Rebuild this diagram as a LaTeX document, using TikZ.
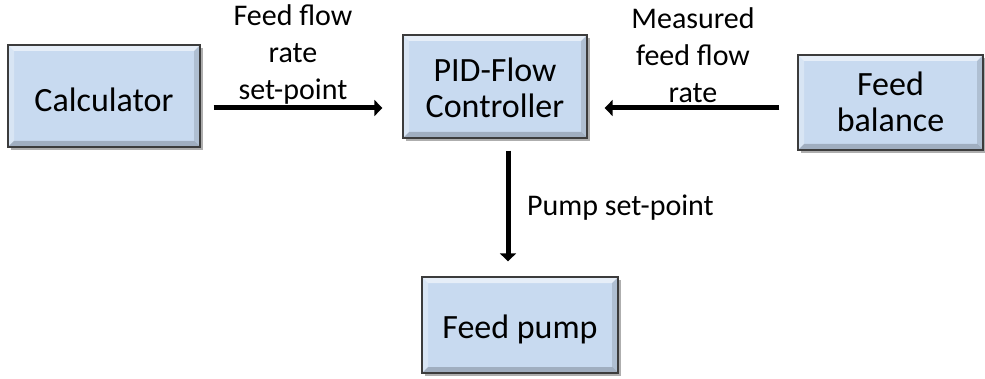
\documentclass[tikz,border=0pt]{standalone}
\usepackage{fontspec}
\setmainfont{Carlito}
\usetikzlibrary{shadows,arrows.meta,calc}
\definecolor{boxfill}{RGB}{200,218,240}
\definecolor{boxedge}{RGB}{60,60,60}
\newcommand{\lowered}[2]{\raisebox{-#1}[\height][\depth]{#2}}
\begin{document}
\begin{tikzpicture}[x=1pt,y=1pt,
  blockbox/.style={draw=boxedge,line width=1.3pt,fill=boxfill,align=center,
    inner sep=0pt,font=\fontsize{34}{36}\selectfont,
    drop shadow={shadow xshift=2.5pt,shadow yshift=-3pt,opacity=0.45,fill=black!70},
    path picture={
      \fill[white,opacity=0.55] (path picture bounding box.north west) -- (path picture bounding box.north east)
        -- ([shift={(-6pt,-6pt)}]path picture bounding box.north east) -- ([shift={(6pt,-6pt)}]path picture bounding box.north west) -- cycle;
      \fill[white,opacity=0.3] (path picture bounding box.north west) -- (path picture bounding box.south west)
        -- ([shift={(6pt,6pt)}]path picture bounding box.south west) -- ([shift={(6pt,-6pt)}]path picture bounding box.north west) -- cycle;
      \fill[black,opacity=0.12] (path picture bounding box.north east) -- (path picture bounding box.south east)
        -- ([shift={(-6pt,6pt)}]path picture bounding box.south east) -- ([shift={(-6pt,-6pt)}]path picture bounding box.north east) -- cycle;
      \fill[black,opacity=0.2] (path picture bounding box.south west) -- (path picture bounding box.south east)
        -- ([shift={(-6pt,6pt)}]path picture bounding box.south east) -- ([shift={(6pt,6pt)}]path picture bounding box.south west) -- cycle;
    }},
  lbl/.style={align=center,inner sep=0pt,font=\fontsize{30}{37}\selectfont},
  flow/.style={line width=5pt,-{Triangle[length=8pt,width=16pt]}}]
\useasboundingbox (0,0) rectangle (985,378);
\node[blockbox,minimum width=192pt,minimum height=102pt] (calc) at (104,282) {\lowered{4pt}{Calculator}};
\node[blockbox,minimum width=184pt,minimum height=103pt] (pid) at (495,291.5) {\lowered{6pt}{\begin{tabular}{@{}c@{}}PID-Flow\\Controller\end{tabular}}};
\node[blockbox,minimum width=185pt,minimum height=95pt] (bal) at (890.5,275.5) {\lowered{4pt}{\begin{tabular}{@{}c@{}}Feed\\balance\end{tabular}}};
\node[blockbox,minimum width=196pt,minimum height=96pt] (pump) at (520,53) {\lowered{4pt}{Feed pump}};
\draw[flow] ([shift={(13pt,-12pt)}]calc.east) -- ([shift={(-20pt,-21.5pt)}]pid.west);
\draw[flow] ([shift={(-18pt,-5.5pt)}]bal.west) -- ([shift={(17pt,-21.5pt)}]pid.east);
\draw[flow] ([shift={(13pt,-12pt)}]pid.south) -- ([shift={(-12pt,15pt)}]pump.north);
\node[lbl] (l1) at (293,323) {Feed flow\\rate\\set-point};
\node[lbl] (l2) at (693,323) {Measured\\feed flow\\rate};
\node[lbl,anchor=west] (l3) at (527,170) {Pump set-point};
\end{tikzpicture}
\end{document}
